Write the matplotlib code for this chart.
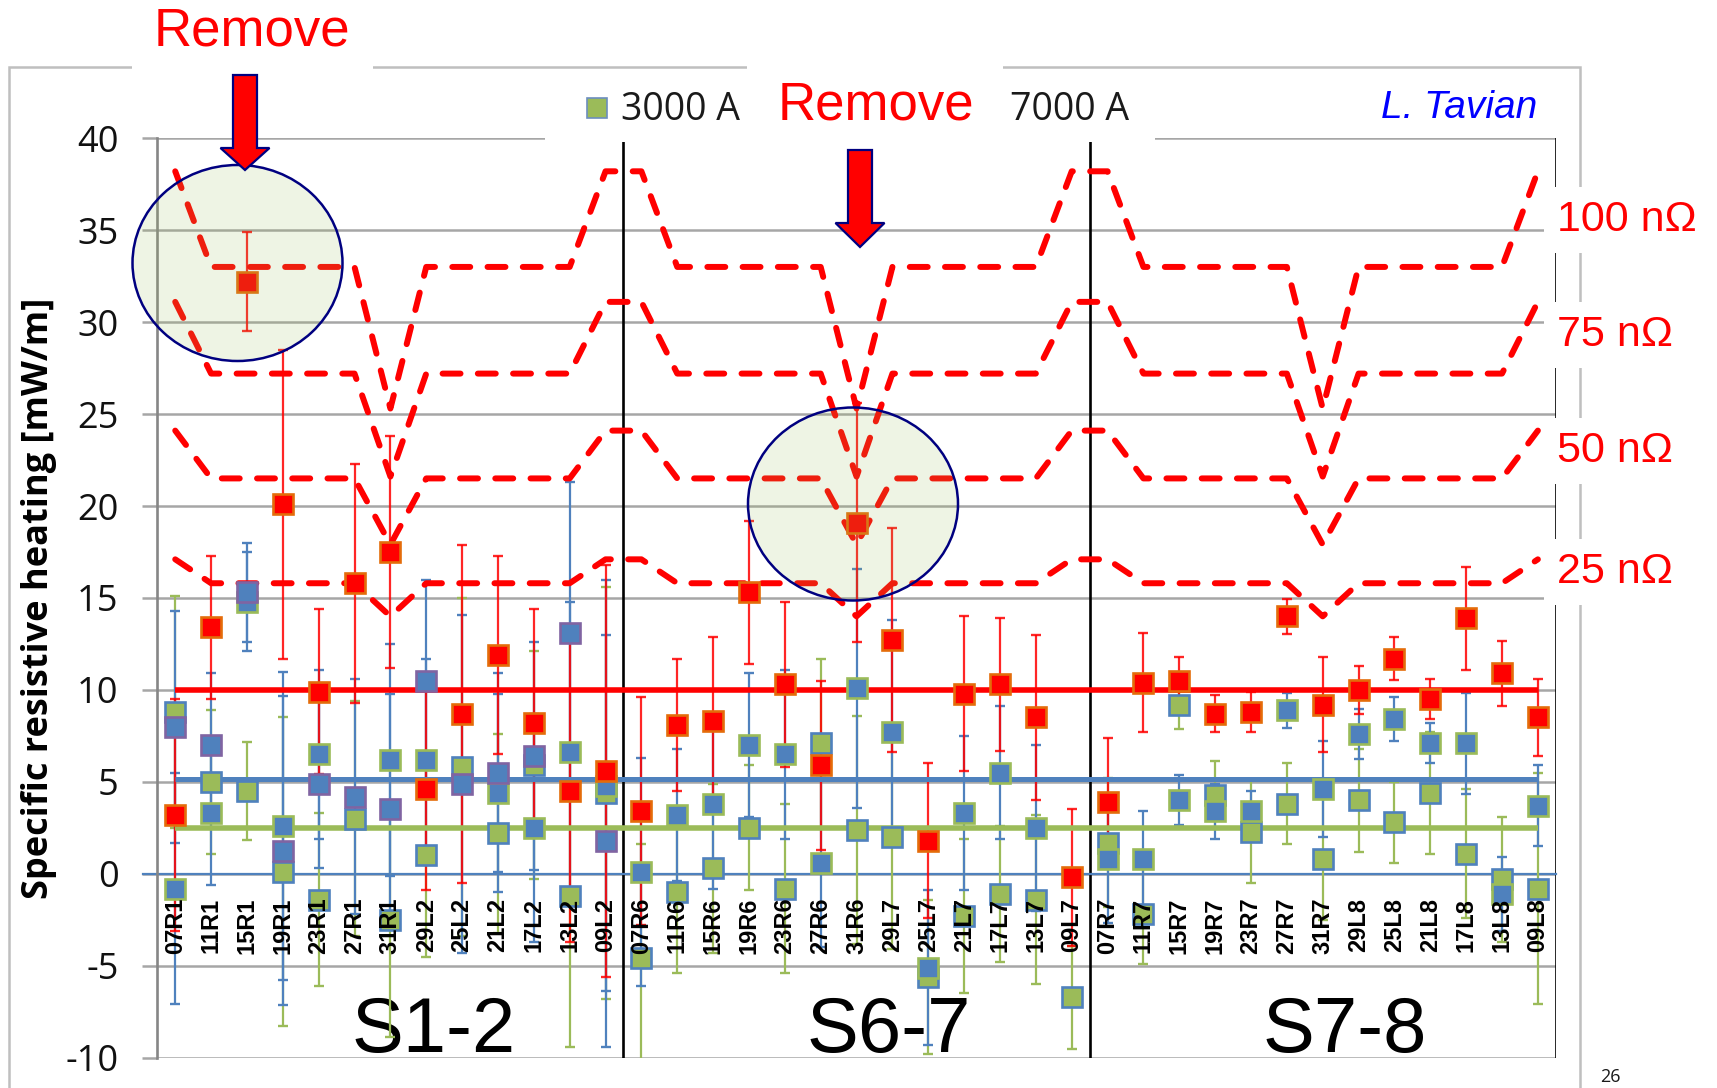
import numpy as np
import matplotlib
matplotlib.use('Agg')
import matplotlib.pyplot as plt
from matplotlib.patches import Rectangle, Ellipse, Polygon

plt.rcParams['axes.unicode_minus'] = False

# ---------------- data ----------------
categories = ['07R1', '11R1', '15R1', '19R1', '23R1', '27R1', '31R1', '29L2', '25L2', '21L2', '17L2', '13L2', '09L2',
              '07R6', '11R6', '15R6', '19R6', '23R6', '27R6', '31R6', '29L7', '25L7', '21L7', '17L7', '13L7', '09L7',
              '07R7', '11R7', '15R7', '19R7', '23R7', '27R7', '31R7', '29L8', '25L8', '21L8', '17L8', '13L8', '09L8']
sector_names = ['S1-2', 'S6-7', 'S7-8']
sector_label_x = [7.2, 19.9, 32.6]
sector_bounds = [12.5, 25.5, 38.5]

nan = np.nan
heat_7000 = [3.2, 13.4, 32.2, 20.1, 9.9, 15.8, 17.5, 4.6, 8.7, 11.9, 8.2, 4.5, 5.6,
             3.4, 8.1, 8.3, 15.3, 10.3, 5.9, 19.1, 12.7, 1.8, 9.8, 10.3, 8.5, -0.2,
             3.9, 10.4, 10.5, 8.7, 8.8, 14.0, 9.2, 10.0, 11.7, 9.5, 13.9, 10.9, 8.5]
heat_3000 = [8.8, 5.0, 4.5, 0.1, -1.4, 3.0, -2.5, 1.0, 5.8, 2.2, 5.9, -1.2, 4.4,
             -4.6, -1.0, 0.3, 2.5, -0.8, 7.1, 2.4, 2.0, -5.6, -2.3, -1.1, -1.4, -6.7,
             1.7, -2.2, 9.2, 4.3, 2.3, 3.8, 0.8, 4.0, 2.8, 4.4, 1.1, -0.3, -0.8]
heat_5000_a = [-0.8, 3.3, 14.8, 2.6, 6.5, nan, 6.2, 6.2, nan, 4.4, 2.5, 6.6, 4.8,
               0.1, 3.2, 3.8, 7.0, 6.5, 0.6, 10.1, 7.7, -5.1, 3.3, 5.5, 2.5, nan,
               0.8, 0.8, 4.0, 3.4, 3.4, 8.9, 4.6, 7.6, 8.4, 7.1, 7.1, -1.1, 3.7]
heat_5000_b = [8.0, 7.0, 15.3, 1.25, 4.9, 4.2, 3.5, 10.5, 4.9, 5.5, 6.4, 13.1, 1.8,
               nan, nan, nan, nan, nan, nan, nan, nan, nan, nan, nan, nan, nan,
               nan, nan, nan, nan, nan, nan, nan, nan, nan, nan, nan, nan, nan]

err_7000 = [6.3, 3.9, 2.7, 8.4, 4.5, 6.5, 6.3, 5.5, 9.2, 5.4, 6.2, 8.2, 11.2,
            6.2, 3.6, 4.6, 3.9, 4.5, 4.6, 6.5, 6.1, 4.2, 4.2, 3.6, 4.5, 3.7,
            3.5, 2.7, 1.3, 1.0, 1.1, 0.95, 2.6, 1.3, 1.15, 1.1, 2.8, 1.75, 2.1]
err_5000 = [6.3, 3.9, 2.7, 8.4, 4.6, 6.4, 6.3, 5.5, 9.2, 5.4, 6.2, 8.2, 11.2,
            6.2, 3.6, 4.6, 3.9, 4.6, 4.6, 6.5, 6.1, 4.2, 4.2, 3.6, 4.5, 3.5,
            3.5, 2.6, 1.35, 1.5, 1.1, 0.95, 2.6, 1.35, 1.2, 1.1, 2.75, 2.0, 2.2]
err_3000 = [6.3, 3.9, 2.65, 8.4, 4.7, 6.4, 6.4, 5.5, 9.2, 5.4, 6.2, 8.2, 11.2,
            6.2, 4.4, 4.6, 3.4, 4.6, 4.6, 6.2, 6.1, 4.2, 4.2, 3.7, 4.6, 2.8,
            3.5, 2.7, 1.3, 1.85, 2.8, 2.2, 3.3, 2.8, 2.2, 3.3, 3.5, 3.4, 6.3]

mean_7000 = 10.0
mean_5000 = 5.14
mean_3000 = 2.47

limit_labels = ['100 n\u03a9', '75 n\u03a9', '50 n\u03a9', '25 n\u03a9']
limit_label_y = [35.55, 29.3, 23.0, 16.4]
limit_100 = [38.2, 33.0, 33.0, 33.0, 33.0, 33.0, 25.3, 33.0, 33.0, 33.0, 33.0, 33.0, 38.2] * 3
limit_75 = [31.1, 27.2, 27.2, 27.2, 27.2, 27.2, 21.6, 27.2, 27.2, 27.2, 27.2, 27.2, 31.1] * 3
limit_50 = [24.1, 21.5, 21.5, 21.5, 21.5, 21.5, 17.9, 21.5, 21.5, 21.5, 21.5, 21.5, 24.1] * 3
limit_25 = [17.1, 15.8, 15.8, 15.8, 15.8, 15.8, 14.0, 15.8, 15.8, 15.8, 15.8, 15.8, 17.1] * 3

# ---------------- styles ----------------
RED = '#FF0000'
RED_EDGE = '#E46C0A'
BLUE = '#4F81BD'
GREEN = '#9BBB59'
PURPLE = '#8064A2'
NAVY = '#000080'
GRID = '#A6A6A6'

W, H = 1717, 1088
fig = plt.figure(figsize=(W / 100, H / 100), dpi=100)
fig.patch.set_facecolor('white')


def fx(px):
    return px / W


def fy(py):
    return 1 - py / H


ax = fig.add_axes([157.3 / W, 1 - 1057.7 / H, 1398.5 / W, 919.5 / H])
ax.set_xlim(-0.5, 38.5)
ax.set_ylim(-10, 40)
ax.patch.set_alpha(0)

x = np.arange(len(categories))

# grid / axes
ax.set_yticks(np.arange(-10, 41, 5))
ax.set_xticks([])
ax.yaxis.grid(True, color=GRID, lw=1.8)
ax.set_axisbelow(True)
for s in ['top', 'right', 'bottom']:
    ax.spines[s].set_visible(False)
ax.spines['left'].set_color('#868686')
ax.spines['left'].set_linewidth(1.9)
ax.tick_params(axis='y', direction='out', length=11, width=1.8, color=GRID, pad=17, labelsize=26)
for lab in ax.get_yticklabels():
    lab.set_family('Open Sans')
    lab.set_color('#111111')

for xb in sector_bounds:
    ax.axvline(xb, color='black', lw=1.9, zorder=1.8)

# zero line (category axis)
ax.plot([-0.9, 38.5], [0, 0], color=BLUE, lw=1.6, clip_on=False, zorder=1.9)

# sector labels
for name, sx in zip(sector_names, sector_label_x):
    ax.text(sx, -9.7, name, ha='center', va='baseline', fontsize=56,
            family='Liberation Sans', color='black', zorder=1.5)

# error bars
eb_kw = dict(fmt='none', elinewidth=1.6, capsize=3.8, capthick=1.7, zorder=2)
ax.errorbar(x, heat_3000, yerr=err_3000, ecolor=GREEN, **eb_kw)
ax.errorbar(x, heat_5000_a, yerr=err_5000, ecolor=BLUE, **eb_kw)
ax.errorbar(x, heat_5000_b, yerr=err_5000, ecolor=BLUE, **eb_kw)
ax.errorbar(x, heat_7000, yerr=err_7000, ecolor=RED, alpha=0.85, **eb_kw)

# mean lines
ax.plot([x[0], x[-1]], [mean_3000, mean_3000], color=GREEN, lw=4.0, zorder=3, solid_capstyle='butt')
ax.plot([x[0], x[-1]], [mean_5000, mean_5000], color=BLUE, lw=3.6, zorder=3, solid_capstyle='butt')
ax.plot([x[0], x[-1]], [mean_7000, mean_7000], color=RED, lw=4.0, zorder=3, solid_capstyle='butt')

# resistance limit curves
for curve in [limit_100, limit_75, limit_50, limit_25]:
    ax.plot(x, curve, color=RED, lw=4.3, ls=(0, (3.0, 2.9)), dash_capstyle='round',
            dash_joinstyle='round', zorder=4)

# markers
mk = dict(ls='none', marker='s', ms=15, mew=1.9, zorder=5)
ax.plot(x, heat_3000, mfc=GREEN, mec=BLUE, **mk)
ax.plot(x, heat_5000_a, mfc=BLUE, mec=GREEN, **mk)
ax.plot(x, heat_5000_b, mfc=BLUE, mec=PURPLE, **mk)
ax.plot(x, heat_7000, mfc=RED, mec=RED_EDGE, **mk)

# category labels
for i, cat in enumerate(categories):
    ax.text(i, -1.3, cat, rotation=90, ha='center', va='top', fontsize=17,
            fontweight='bold', family='Liberation Sans', color='black', zorder=6)

# resistance labels on the right
for lab, ly in zip(limit_labels, limit_label_y):
    ax.text(1.001, ly, lab, transform=ax.get_yaxis_transform(), ha='left', va='center',
            fontsize=31, family='Liberation Sans', color=RED, clip_on=False, zorder=10,
            bbox=dict(boxstyle='square,pad=0.3', fc='white', ec='none'))

# y label
fig.text(fx(39), fy(598), 'Specific resistive heating [mW/m]', rotation=90, ha='center', va='center',
         fontsize=26, fontweight='bold', family='Open Sans', color='black')

# outer chart frame
fig.add_artist(Rectangle((fx(9), fy(1110)), (1580 - 9) / W, (1110 - 67) / H, fill=False,
                         ec='#BFBFBF', lw=1.8, transform=fig.transFigure, zorder=-1))

# white boxes (Remove labels / legend)
for (x0, y0, x1, y1) in [(132, 0, 373, 80), (747, 50, 1003, 80), (545, 72, 1155, 142)]:
    fig.add_artist(Rectangle((fx(x0), fy(y1)), (x1 - x0) / W, (y1 - y0) / H, fc='white', ec='none',
                             transform=fig.transFigure, zorder=2))

# legend
fig.add_artist(Rectangle((fx(587), fy(118)), 20 / W, 20 / H, fc=GREEN, ec='#6C8EBF', lw=1.2,
                         transform=fig.transFigure, zorder=3))
fig.text(fx(621), fy(110), '3000 A', ha='left', va='center', fontsize=27, family='Open Sans',
         color='#1a1a1a', zorder=5)
fig.text(fx(1010), fy(110), '7000 A', ha='left', va='center', fontsize=27, family='Open Sans',
         color='#1a1a1a', zorder=5)
fig.text(fx(1381), fy(108), 'L. Tavian', ha='left', va='center', fontsize=28, family='Liberation Sans',
         style='italic', color='#0000FF', zorder=5)

# Remove annotations
fig.text(fx(252), fy(31), 'Remove', ha='center', va='center', fontsize=38, family='Liberation Sans',
         color=RED, zorder=5)
fig.text(fx(876), fy(106), 'Remove', ha='center', va='center', fontsize=38, family='Liberation Sans',
         color=RED, zorder=5)


def arrow(cx, y_top, y_neck, y_tip, shaft_w, head_w):
    pts = [(cx - shaft_w / 2, y_top), (cx + shaft_w / 2, y_top), (cx + shaft_w / 2, y_neck),
           (cx + head_w / 2, y_neck), (cx, y_tip), (cx - head_w / 2, y_neck), (cx - shaft_w / 2, y_neck)]
    fig.add_artist(Polygon([(fx(a), fy(b)) for a, b in pts], closed=True, fc=RED, ec=NAVY, lw=1.6,
                           transform=fig.transFigure, zorder=6))


arrow(245, 75, 148, 170, 24, 49)
arrow(860, 150, 223, 247, 24, 49)

# highlight circles
for (cx, cy, w, h) in [(237.5, 263, 210, 196), (853, 504, 210, 193)]:
    fig.add_artist(Ellipse((fx(cx), fy(cy)), w / W, h / H, fc=(0.608, 0.733, 0.349, 0.16), ec=NAVY,
                           lw=1.8, transform=fig.transFigure, zorder=4))

# page number
fig.text(fx(1600), fy(1086), '26', ha='left', va='bottom', fontsize=13, family='Open Sans', color='#1a1a1a')

fig.savefig('out.png', dpi=100, facecolor='white')
